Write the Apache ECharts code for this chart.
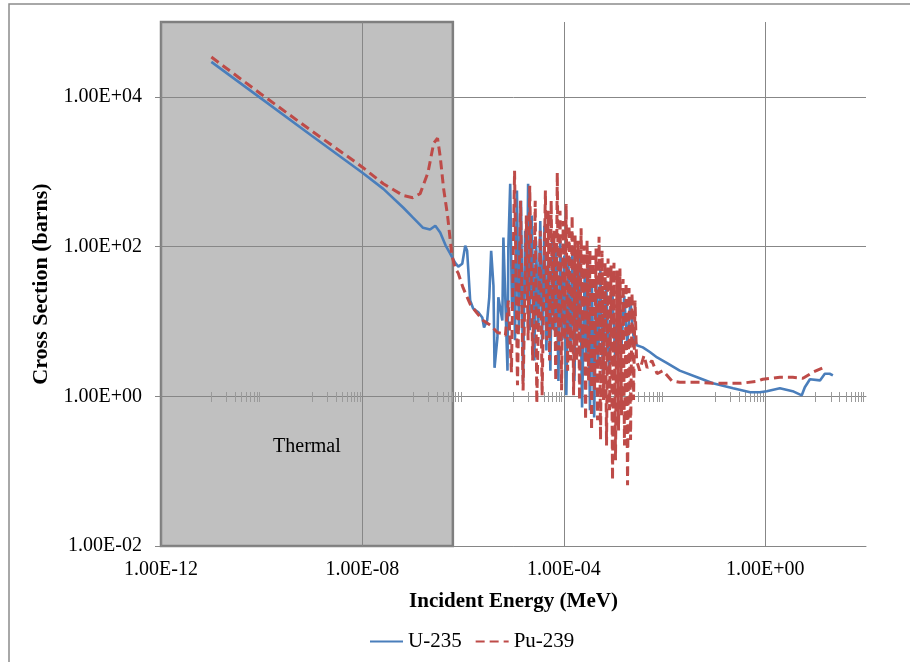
<!DOCTYPE html>
<html>
<head>
<meta charset="utf-8">
<script src="https://cdn.jsdelivr.net/npm/echarts@6/dist/echarts.min.js"></script>
<style>
html,body{margin:0;padding:0;background:#fff;}
#chart{width:910px;height:662px;}
</style>
</head>
<body>
<div id="chart"></div>
<script>
// ---- data ----
const xTickValues = [1e-12, 1e-8, 1e-4, 1];
const yTickValues = [1e-2, 1, 1e2, 1e4];
const minorTickDecades = [1e-11, 1e-9, 1e-7, 1e-5, 1e-3, 1e-1, 1e1];
const minorTickMultipliers = [1, 2, 3, 4, 5, 6, 7, 8, 9];
const thermalRange = [1e-12, 6.25e-7];
const seriesNames = ['U-235', 'Pu-239'];

const u235Energy = [1.0e-11, 1.0e-10, 1.0e-9, 1.0e-8, 2.6e-8, 6.5e-8, 1.0e-7, 1.6e-7, 2.2e-7, 2.8e-7, 3.5e-7, 4.5e-7, 5.5e-7, 6.9e-7, 8.0e-7, 9.6e-7, 1.1e-6, 1.2e-6, 1.38e-6, 1.58e-6, 2.0e-6, 2.4e-6, 2.6e-6, 3.0e-6, 3.3e-6, 3.6e-6, 4.0e-6, 4.2e-6, 4.8e-6, 5.0e-6, 6.0e-6, 6.3e-6, 6.9e-6, 7.6e-6, 7.9e-6, 8.6e-6, 9.3e-6, 1.02e-5, 1.07e-5, 1.17e-5, 1.28e-5, 1.41e-5, 1.55e-5, 1.7e-5, 1.86e-5, 1.95e-5, 2.1e-5, 2.3e-5, 2.6e-5, 2.8e-5, 3.1e-5, 3.4e-5, 3.7e-5, 4.1e-5, 4.5e-5, 4.9e-5, 5.4e-5, 5.9e-5, 6.5e-5, 7.1e-5, 7.8e-5, 8.5e-5, 9.3e-5, 1.02e-4, 1.12e-4, 1.23e-4, 1.35e-4, 1.48e-4, 1.62e-4, 1.78e-4, 1.95e-4, 2.1e-4, 2.3e-4, 2.6e-4, 2.8e-4, 3.0e-4, 3.3e-4, 3.6e-4, 4.0e-4, 4.4e-4, 4.8e-4, 5.3e-4, 6.0e-4, 6.9e-4, 7.9e-4, 9.1e-4, 1.05e-3, 1.2e-3, 1.38e-3, 1.58e-3, 1.82e-3, 2.1e-3, 2.4e-3, 2.8e-3, 3.7e-3, 5.1e-3, 7.1e-3, 1.1e-2, 2.0e-2, 5.0e-2, 9.1e-2, 0.23, 0.50, 0.78, 1.07, 1.95, 3.5, 5.3, 6.1, 7.7, 12.2, 15.2, 19, 22];
const u235Sigma = [2.93e4, 9.4e3, 3.0e3, 970, 590, 330, 245, 178, 169, 190, 154, 103, 81, 61, 54, 59, 103, 88, 19, 14.9, 13.2, 11.3, 8.3, 10.3, 21, 88, 30, 2.4, 6.1, 21, 10.3, 132, 19, 2.2, 97, 690, 15, 65, 5.6, 560, 7.6, 410, 1.6, 163, 19, 690, 7.6, 260, 3.0, 120, 7.6, 220, 5.6, 190, 4.1, 65, 2.2, 140, 7.6, 88, 1.6, 120, 5.6, 76, 1.03, 65, 4.1, 103, 1.6, 56, 7.6, 76, 0.71, 48, 3.0, 65, 0.65, 35, 0.52, 41, 3.0, 51, 1.6, 35, 2.2, 30, 3.0, 24, 4.1, 22, 4.8, 19, 6.5, 4.8, 4.5, 3.9, 3.3, 2.8, 2.2, 1.74, 1.49, 1.28, 1.13, 1.13, 1.17, 1.28, 1.17, 1.03, 1.32, 1.69, 1.63, 2.0, 2.0, 1.9];

const pu239Energy = [1.0e-11, 9.5e-11, 9.3e-10, 5.8e-9, 1.0e-8, 2.6e-8, 6.5e-8, 1.0e-7, 1.4e-7, 2.0e-7, 2.6e-7, 3.1e-7, 3.5e-7, 4.1e-7, 4.9e-7, 5.5e-7, 6.0e-7, 6.9e-7, 8.0e-7, 1.0e-6, 1.38e-6, 1.9e-6, 2.5e-6, 3.5e-6, 4.8e-6, 6.0e-6, 6.9e-6, 7.9e-6, 9.1e-6, 1.05e-5, 1.2e-5, 1.38e-5, 1.55e-5, 1.8e-5, 1.95e-5, 2.1e-5, 2.4e-5, 2.7e-5, 2.9e-5, 3.4e-5, 3.7e-5,
  4.3e-5, 4.6e-5, 4.9e-5, 5.2e-5, 5.6e-5, 6.0e-5, 6.4e-5, 6.9e-5, 7.4e-5, 7.9e-5, 8.4e-5, 9.0e-5, 9.7e-5, 1.04e-4, 1.11e-4, 1.19e-4, 1.27e-4, 1.36e-4, 1.46e-4, 1.56e-4, 1.67e-4, 1.79e-4, 1.92e-4, 2.05e-4, 2.2e-4, 2.35e-4, 2.52e-4, 2.7e-4, 2.89e-4, 3.1e-4, 3.3e-4, 3.55e-4, 3.8e-4, 4.07e-4, 4.36e-4, 4.67e-4, 5.0e-4, 5.35e-4, 5.73e-4, 6.14e-4, 6.57e-4, 7.04e-4, 7.54e-4, 8.07e-4, 8.65e-4, 9.26e-4, 9.9e-4, 1.06e-3, 1.14e-3, 1.22e-3, 1.3e-3, 1.4e-3, 1.5e-3, 1.6e-3, 1.72e-3, 1.84e-3, 1.97e-3, 2.11e-3, 2.26e-3, 2.42e-3, 2.59e-3, 2.78e-3,
  3.2e-3, 3.9e-3, 4.5e-3, 5.6e-3, 7.1e-3, 9.3e-3, 1.4e-2, 2.0e-2, 5.0e-2, 9.1e-2, 0.17, 0.32, 0.68, 0.89, 1.95, 3.5, 5.6, 8.9, 13.8, 16.6];
const pu239Sigma = [3.4e4, 1.1e4, 3.6e3, 1.5e3, 1.15e3, 690, 480, 450, 510, 970, 2.4e3, 2.8e3, 1.6e3, 590, 260, 128, 76, 52, 44, 28, 17, 12.8, 10.3, 8.9, 7.1, 6.9, 6.5, 19, 2.1, 1.03e3, 1.4, 410, 1.2, 260, 5.6, 650, 3.0, 410, 0.81, 163, 1.03,
  560, 5.6, 300, 3.0, 410, 7.6, 163, 1.6, 970, 4.1, 300, 1.2, 220, 5.6, 370, 2.2, 190, 3.0, 260, 1.03, 140, 3.0, 120, 0.89, 175, 4.1, 103, 0.48, 120, 1.6, 88, 0.35, 76, 1.2, 94, 0.48, 135, 0.26, 88, 0.89, 61, 0.22, 69, 0.65, 56, 0.076, 61, 0.14, 48, 0.35, 51, 0.56, 37, 0.22, 33, 0.065, 28, 0.26, 24, 0.89, 19, 3.0,
  2.2, 3.5, 2.4, 3.0, 2.0, 2.2, 1.6, 1.54, 1.54, 1.49, 1.49, 1.49, 1.58, 1.69, 1.79, 1.79, 1.74, 2.1, 2.4, 2.4];

// ---- build ----
const minorTickValues = [];
minorTickDecades.forEach(d => minorTickMultipliers.forEach(m => minorTickValues.push(m * d)));

function sciLabel(v) {
  const e = Math.round(Math.log10(v));
  const m = v / Math.pow(10, e);
  const a = Math.abs(e);
  return m.toFixed(2) + 'E' + (e < 0 ? '-' : '+') + (a < 10 ? '0' : '') + a;
}
const zip = (xs, ys) => xs.map((x, i) => [x, ys[i]]);

const FONT = '"Liberation Serif", "Times New Roman", serif';
const GRID_COLOR = '#878787';

const chart = echarts.init(document.getElementById('chart'), null, {renderer: 'canvas'});
chart.setOption({
  animation: false,
  backgroundColor: '#ffffff',
  textStyle: {fontFamily: FONT},
  graphic: [{
    type: 'rect', z: 0,
    shape: {x: 9, y: 4, width: 1000, height: 1000},
    style: {fill: 'none', stroke: '#8c8c8c', lineWidth: 1.5}
  }],
  grid: {left: 161, right: 44, top: 22, bottom: 116, containLabel: false},
  legend: {
    left: 364, top: 626,
    itemWidth: 33, itemHeight: 12, itemGap: 13,
    itemStyle: {opacity: 0},
    textStyle: {fontFamily: FONT, fontSize: 21, color: '#000'},
    data: seriesNames
  },
  xAxis: [{
    type: 'log', min: 1e-12, max: 1e2, z: 2,
    position: 'bottom',
    name: 'Incident Energy (MeV)', nameLocation: 'middle', nameGap: 45,
    nameTextStyle: {fontFamily: FONT, fontSize: 21, fontWeight: 'bold', color: '#000'},
    axisLine: {show: true, onZero: false, lineStyle: {color: '#868686', width: 1}},
    axisTick: {show: false, customValues: xTickValues},
    axisLabel: {customValues: xTickValues, formatter: sciLabel, fontFamily: FONT, fontSize: 20, color: '#000', margin: 14},
    splitLine: {show: true, lineStyle: {color: GRID_COLOR, width: 1}},
    minorTick: {show: false}
  }, {
    type: 'log', min: 1e-12, max: 1e2, z: 2,
    position: 'bottom', offset: -150,
    axisLine: {show: true, onZero: false, lineStyle: {color: '#868686', width: 1}},
    axisTick: {show: true, customValues: minorTickValues, length: 6, lineStyle: {color: '#9a9a9a', width: 1}},
    axisLabel: {show: false},
    splitLine: {show: false}
  }, {
    type: 'log', min: 1e-12, max: 1e2, z: 2,
    position: 'bottom', offset: -150,
    axisLine: {show: false, onZero: false},
    axisTick: {show: true, inside: true, customValues: minorTickValues, length: 4, lineStyle: {color: '#9a9a9a', width: 1}},
    axisLabel: {show: false},
    splitLine: {show: false}
  }],
  yAxis: {
    type: 'log', min: 1e-2, max: 1e5, z: 2,
    name: 'Cross Section (barns)', nameLocation: 'middle', nameGap: 108,
    nameTextStyle: {fontFamily: FONT, fontSize: 22, fontWeight: 'bold', color: '#000'},
    axisLine: {show: true, onZero: false, lineStyle: {color: '#868686', width: 1}},
    axisTick: {show: true, customValues: yTickValues, length: 6, lineStyle: {color: '#868686'}},
    axisLabel: {customValues: yTickValues, formatter: sciLabel, fontFamily: FONT, fontSize: 20, color: '#000', margin: 19},
    splitLine: {show: true, lineStyle: {color: GRID_COLOR, width: 1}},
    minorTick: {show: false}
  },
  series: [{
    type: 'line', name: 'thermal-region', z: 1, data: [], silent: true,
    markArea: {
      silent: true,
      itemStyle: {color: '#c0c0c0', borderColor: '#7f7f7f', borderWidth: 2.5},
      label: {
        show: true, position: ['50%', '81%'], align: 'center', verticalAlign: 'middle',
        fontFamily: FONT, fontSize: 20, color: '#000'
      },
      data: [[{name: 'Thermal', xAxis: thermalRange[0], yAxis: 1e-2}, {xAxis: thermalRange[1], yAxis: 1e5}]]
    }
  }, {
    type: 'line', name: seriesNames[0], z: 4,
    symbol: 'none', showSymbol: false,
    lineStyle: {color: '#4a7ebb', width: 2.6},
    itemStyle: {color: '#4a7ebb'},
    data: zip(u235Energy, u235Sigma)
  }, {
    type: 'line', name: seriesNames[1], z: 5,
    symbol: 'none', showSymbol: false,
    lineStyle: {color: '#be4b48', width: 3, type: [9, 5]},
    itemStyle: {color: '#be4b48'},
    data: zip(pu239Energy, pu239Sigma)
  }]
});
</script>
</body>
</html>
